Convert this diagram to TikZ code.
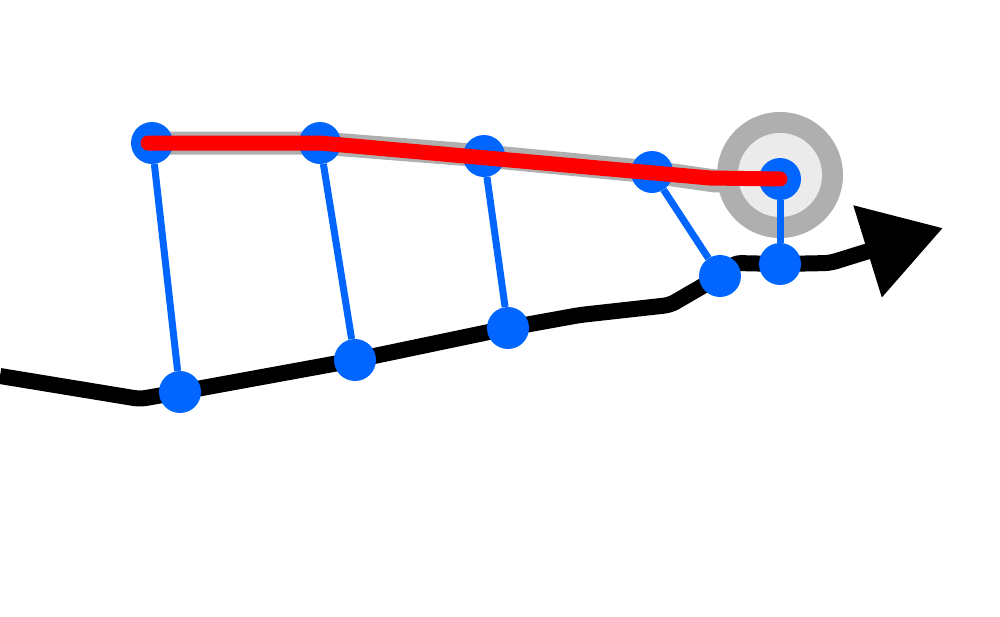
\documentclass[tikz,border=0pt]{standalone}
\usepackage{tikz}
\usepackage{xcolor}
\usetikzlibrary{arrows.meta, backgrounds}
\definecolor{dotblue}{HTML}{0066ff}
\definecolor{trackgray}{HTML}{afafaf}
\definecolor{ringlight}{HTML}{ebebeb}

\begin{document}
\begin{tikzpicture}[
        dot/.style = {circle, fill = dotblue, inner sep = 0pt, minimum size = 42pt},
        link/.style = {draw = dotblue, line width = 7pt}]
        \useasboundingbox (0pt, 0pt) rectangle (1000pt, -616pt);

        % Nodes
        \node [dot] (t1) at (152pt, -143pt) {};
        \node [dot] (t2) at (320pt, -143pt) {};
        \node [dot] (t3) at (484pt, -156pt) {};
        \node [dot] (t4) at (652pt, -172pt) {};
        \node [dot] (t5) at (780pt, -179pt) {};
        \node [dot] (b1) at (180pt, -392pt) {};
        \node [dot] (b2) at (355pt, -360pt) {};
        \node [dot] (b3) at (508pt, -328pt) {};
        \node [dot] (b4) at (720pt, -276pt) {};
        \node [dot] (b5) at (780pt, -264pt) {};

        % Bends
        \coordinate (r0) at (0pt, -376pt);
        \coordinate (r1) at (140pt, -399pt);
        \coordinate (r2) at (580pt, -315pt);
        \coordinate (r3) at (670pt, -305pt);
        \coordinate (r4) at (735pt, -263pt);
        \coordinate (r5) at (830pt, -263pt);
        \coordinate (r6) at (943pt, -228pt);
        \coordinate (g1) at (715pt, -181pt);
        \coordinate (s1) at (710pt, -178pt);
        \coordinate (ring) at (780pt, -175pt);

        \begin{pgfonlayer}{background}
            % Road
            \draw [line width = 16pt, rounded corners = 6pt, -{Triangle[length = 79pt, width = 92pt]}]
                (r0) -- (r1) -- (b1.center) -- (b2.center) -- (b3.center) -- (r2) -- (r3)
                -- (b4.center) -- (r4) -- (b5.center) -- (r5) -- (r6);
            % Track
            \draw [trackgray, line width = 23pt, line join = round]
                (t1.center) -- (t2.center) -- (t3.center) -- (t4.center) -- (g1) -- (t5.center);
            % Ring
            \fill [trackgray] (ring) circle (63pt);
            \fill [ringlight] (ring) circle (42pt);
        \end{pgfonlayer}

        % Lines
        \draw [link] (t1) -- (b1);
        \draw [link] (t2) -- (b2);
        \draw [link] (t3) -- (b3);
        \draw [link] (t4) -- (b4);
        \draw [link] (t5) -- (b5);

        % Smoothed
        \draw [red, line width = 15pt, line cap = round, line join = round]
            (148pt, -143pt) -- (t2.center) -- (s1) -- (t5.center);

    \end{tikzpicture}
\end{document}
